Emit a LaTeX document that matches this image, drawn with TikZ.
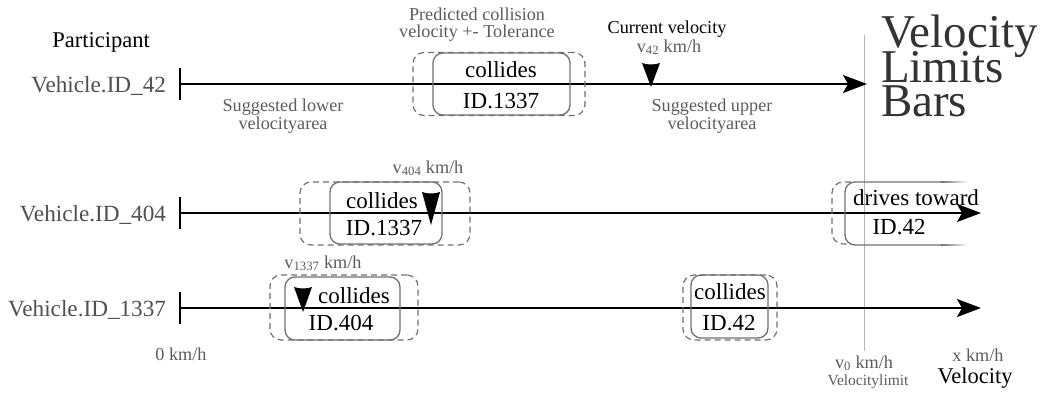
\documentclass[tikz,border=0pt]{standalone}
\usepackage{fontspec}
\setmainfont{Liberation Serif}
\usetikzlibrary{arrows.meta}

\definecolor{labelgray}{HTML}{505050}
\definecolor{notegray}{HTML}{5C5C5C}
\definecolor{framegray}{HTML}{707070}
\definecolor{titlegray}{HTML}{333333}
\definecolor{limitgray}{HTML}{B4B4B4}

\newcommand{\pxfont}[1]{\fontsize{#1}{#1}\selectfont}

\tikzset{
  pics/vmark/.style={code={
    \fill[black] (0,0) -- (-9,-#1) .. controls (-3,-#1+2) and (3,-#1+2) .. (9,-#1) -- cycle;}},
}

\begin{document}
\begin{tikzpicture}[x=1pt,y=-1pt,
  every node/.style={inner sep=0pt, outer sep=0pt},
  axisline/.style={line width=2pt, -{Stealth[length=24pt,width=18pt,inset=5pt]}},
  tickline/.style={line width=2.6pt},
  framebox/.style={draw=framegray, line width=1.3pt, rounded corners=10pt},
  dashframe/.style={draw=framegray, line width=1.2pt, rounded corners=11pt,
                    dash pattern=on 6pt off 4pt},
  vehicle/.style={font=\pxfont{23.2}, text=labelgray, anchor=base east},
  heading/.style={font=\pxfont{22.5}, text=black, anchor=base},
  note/.style={font=\pxfont{18.2}, text=notegray, anchor=base},
  darknote/.style={font=\pxfont{18.2}, text=black, anchor=base},
  boxtext/.style={font=\pxfont{23}, text=black, anchor=base},
  title/.style={font=\pxfont{47}, text=titlegray, anchor=base west},
]
\useasboundingbox (0,0) rectangle (1047,392);

% velocity limit line
\coordinate (limtop) at (864,35);
\coordinate (limbot) at (864,351);
\draw[limitgray, line width=0.8pt] (limtop) -- (limbot);

% axes with their start ticks
\coordinate (s1) at (180,84);  \coordinate (e1) at (867,84);
\coordinate (s2) at (180,213); \coordinate (e2) at (981,213);
\coordinate (s3) at (180,308); \coordinate (e3) at (981,308);
\foreach \s in {s1,s2,s3}
  \draw[tickline] (\s) ++(0,-16) -- ++(0,32);
\draw[axisline] (s1) -- (e1);
\draw[axisline] (s2) -- (e2);
\draw[axisline] (s3) -- (e3);

% participant labels
\node[heading] (part) at (101,47) {Participant};
\node[vehicle] (v42)   at (166,92)  {Vehicle.ID\_42};
\node[vehicle] (v404)  at (166,221) {Vehicle.ID\_404};
\node[vehicle] (v1337) at (166,316) {Vehicle.ID\_1337};

% row 1: Vehicle.ID_42
\node[dashframe, minimum width=172pt, minimum height=63pt] (tol1) at (499,84) {};
\node[framebox, minimum width=137pt, minimum height=62pt] (col1) at (501.5,84) {};
\node[boxtext] (col1a) at (501,77) {collides};
\node[boxtext] (col1b) at (501,108) {ID.1337};
\node[note] (pred1) at (477,20) {Predicted collision};
\node[note] (pred2) at (477,37.5) {velocity +- Tolerance};
\node[darknote] (cur1) at (667,33) {Current velocity};
\node[note] (cur2) at (669,52) {v\textsubscript{42} km/h};
\pic at (651,87) {vmark=24};
\node[note] (low1) at (283,111.5) {Suggested lower};
\node[note] (low2) at (283,129) {velocityarea};
\node[note] (up1) at (712,111.5) {Suggested upper};
\node[note] (up2) at (712,129) {velocityarea};

% row 2: Vehicle.ID_404
\node[dashframe, minimum width=170pt, minimum height=63pt] (tol2) at (385,213.5) {};
\node[framebox, minimum width=112pt, minimum height=62pt] (col2) at (386,213) {};
\node[boxtext] (col2a) at (382,208) {collides};
\node[boxtext] (col2b) at (384,235) {ID.1337};
\node[note] (cur404) at (428,173) {v\textsubscript{404} km/h};
\pic at (431,225) {vmark=33};

\draw[dashframe] (851,182) -- (832,182) -- (832,244) -- (851,244);
\draw[framebox] (942,182) -- (845,182) -- (845,245) -- (942,245);
\shade[left color=framegray, right color=white] (941,181.35) rectangle (968,182.65);
\shade[left color=framegray, right color=white] (941,244.35) rectangle (968,245.65);
\node[boxtext] (drv2a) at (916,205) {drives toward};
\node[boxtext] (drv2b) at (899,234) {ID.42};

% row 3: Vehicle.ID_1337
\node[dashframe, minimum width=148pt, minimum height=65pt] (tol3) at (344,307.5) {};
\node[framebox, minimum width=115pt, minimum height=63pt] (col3) at (342.5,308.5) {};
\node[boxtext] (col3a) at (354,303) {collides};
\node[boxtext] (col3b) at (341,330) {ID.404};
\node[note] (cur1337) at (323,268) {v\textsubscript{1337} km/h};
\pic at (303,312) {vmark=25};

\node[dashframe, minimum width=94pt, minimum height=65pt] (tol4) at (730,307.5) {};
\node[framebox, minimum width=77pt, minimum height=63pt] (col4) at (729.5,306.5) {};
\node[boxtext] (col4a) at (730,299) {collides};
\node[boxtext] (col4b) at (729,330) {ID.42};

% velocity scale labels
\node[note] (zero) at (181,360) {0 km/h};
\node[note] (vzero) at (864,368) {v\textsubscript{0} km/h};
\node[note, font=\pxfont{15.5}] (vlim) at (868,385) {Velocitylimit};
\node[note] (xkmh) at (978,361) {x km/h};
\node[heading] (vel) at (975,383) {Velocity};

% title
\node[title] (t1) at (881,47) {Velocity};
\node[title] (t2) at (881,82.5) {Limits};
\node[title] (t3) at (881,116) {Bars};
\end{tikzpicture}
\end{document}
